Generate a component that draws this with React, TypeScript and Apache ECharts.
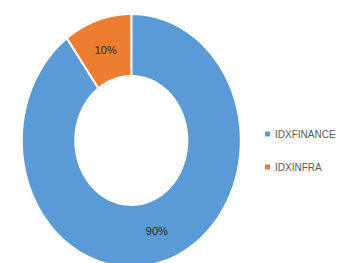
import React, { useEffect, useRef } from "react";
import * as echarts from "echarts";

const categories = ["IDXFINANCE", "IDXINFRA"];
const values = [90, 10];
const colors = ["#5B9BD5", "#ED7D31"];

const CX = 131.3;
const CY = 140.5;
const RX_OUT = 109.5;
const RY_OUT = 126.5;
const RX_IN = 56;
const RY_IN = 64.5;

export default function App() {
  const ref = useRef<HTMLDivElement>(null);
  useEffect(() => {
    if (!ref.current) return;
    const chart = echarts.init(ref.current, undefined, { renderer: "svg" });
    const total = values.reduce((a, b) => a + b, 0);
    const series = categories.map((name, i) => {
      const before = values.slice(0, i).reduce((a, b) => a + b, 0);
      return {
        name,
        type: "custom",
        coordinateSystem: "none",
        itemStyle: { color: colors[i] },
        data: [[values[i]]],
        renderItem: (params: any, api: any) => {
          const v = api.value(0);
          const a0 = (before / total) * Math.PI * 2;
          const a1 = ((before + v) / total) * Math.PI * 2;
          const steps = 120;
          const pts: number[][] = [];
          for (let k = 0; k <= steps; k++) {
            const t = a0 + ((a1 - a0) * k) / steps;
            pts.push([CX + RX_OUT * Math.sin(t), CY - RY_OUT * Math.cos(t)]);
          }
          for (let k = steps; k >= 0; k--) {
            const t = a0 + ((a1 - a0) * k) / steps;
            pts.push([CX + RX_IN * Math.sin(t), CY - RY_IN * Math.cos(t)]);
          }
          const mid = (a0 + a1) / 2;
          const lx = CX + ((RX_OUT + RX_IN) / 2) * Math.sin(mid);
          const ly = CY - ((RY_OUT + RY_IN) / 2) * Math.cos(mid);
          return {
            type: "group",
            children: [
              {
                type: "polygon",
                shape: { points: pts },
                style: { fill: colors[i], stroke: "#ffffff", lineWidth: 2 },
              },
              {
                type: "text",
                x: lx,
                y: ly,
                style: {
                  text: Math.round((v / total) * 100) + "%",
                  fill: "#262626",
                  font: "11px 'Liberation Sans', sans-serif",
                  align: "center",
                  verticalAlign: "middle",
                },
              },
            ],
          };
        },
      };
    });
    chart.setOption({
      animation: false,
      backgroundColor: "#ffffff",
      color: colors,
      legend: {
        orient: "vertical",
        left: 265,
        top: 129,
        padding: 0,
        itemGap: 23,
        itemWidth: 5,
        itemHeight: 5,
        icon: "rect",
        data: categories,
        selectedMode: false,
        textStyle: {
          color: "#595959",
          fontSize: 10,
          fontFamily: "'Liberation Sans', sans-serif",
        },
      },
      series,
    });
    return () => chart.dispose();
  }, []);
  return (
    <div
      ref={ref}
      style={{ position: "fixed", left: 0, top: 0, width: 353, height: 263 }}
    />
  );
}
